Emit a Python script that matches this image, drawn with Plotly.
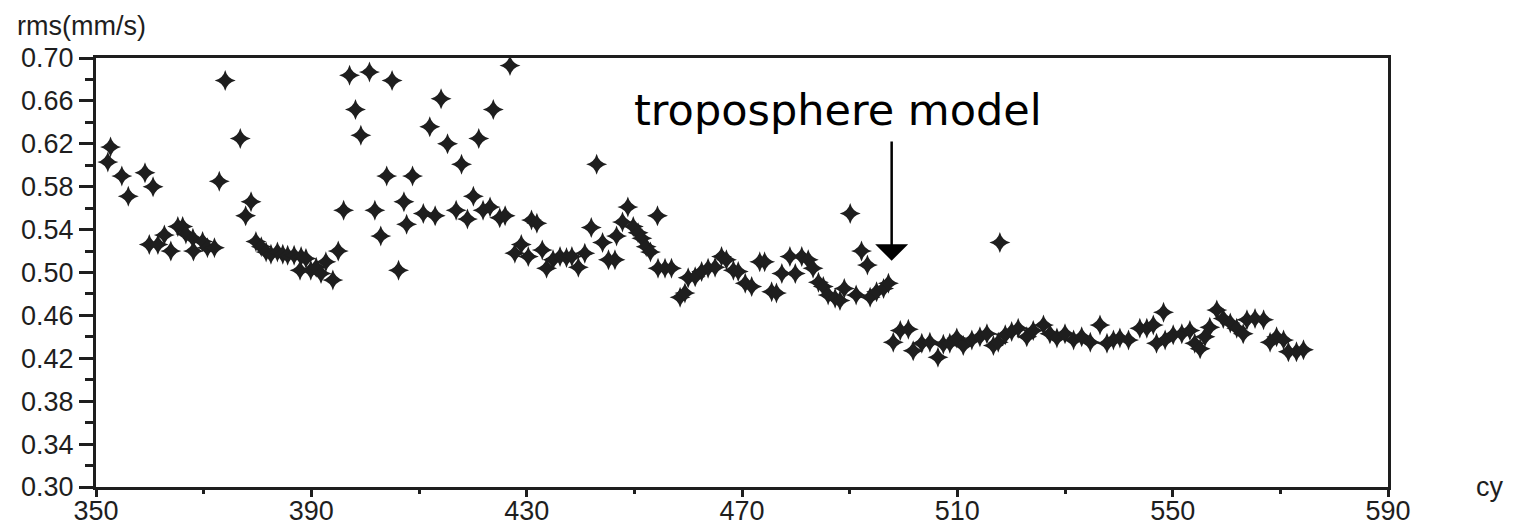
import plotly.graph_objects as go

# cycle numbers (x) and rms values in mm/s (y)
cycle = [
    352.2, 352.7, 354.8, 356.0, 359.1, 360.6, 359.9, 361.5, 362.7, 363.9,
    365.2, 366.1, 366.7, 368.0, 368.1, 369.8, 370.7, 372.0, 372.9, 374.0,
    376.8, 377.8, 378.8,
    379.7, 380.7, 381.6, 382.5, 383.7, 384.7, 385.6, 386.8, 388.1, 389.0,
    387.9, 389.9, 390.9, 391.8, 392.7, 394.0, 395.0,
    396.0, 397.1, 398.2, 399.2, 400.8, 401.8, 402.9, 404.0, 405.0, 406.2,
    407.2, 407.7, 408.8, 410.8, 412.0, 413.0, 414.1, 415.3, 416.9, 417.9,
    419.0, 420.1, 421.1, 421.9, 423.2, 423.8, 425.0, 426.0, 426.9, 427.8,
    429.0, 430.3, 430.9, 431.9, 432.9,
    433.7, 434.9, 436.2, 437.4, 438.4, 439.6, 440.8, 442.0, 443.0, 444.1,
    445.2, 446.4, 446.7, 447.8, 448.8, 449.8, 450.7, 451.4, 452.2, 453.0,
    454.3, 454.4, 455.7, 456.9, 458.5, 459.4, 460.0, 461.3, 462.5, 463.7,
    465.0, 466.2, 467.1, 468.4, 469.3, 470.6, 471.8, 473.3, 474.2, 475.5,
    476.4, 477.4, 478.9, 479.9, 481.1, 482.3, 483.2, 484.2, 485.1, 486.0,
    487.3, 488.2, 489.0, 490.1, 491.2, 492.2, 493.3, 493.8, 495.0, 496.3,
    497.2,
    498.1, 499.4, 500.9, 501.8, 503.4, 504.9, 506.4, 507.4, 508.6, 509.9,
    511.1, 512.7, 514.2, 515.5, 516.7, 517.6, 517.9, 518.9, 520.1, 521.3,
    522.9, 524.1, 526.0, 527.2, 528.5, 530.0, 531.6, 533.1, 534.7, 536.5,
    537.8, 539.0, 540.2, 541.8, 543.9, 545.2, 546.4, 547.0, 548.3, 548.6,
    550.1, 551.7, 553.2, 554.1, 555.1, 556.0, 556.9, 558.2, 559.4, 560.7,
    561.9, 563.1, 563.8, 565.3, 566.9, 568.1, 569.3, 570.6, 571.5, 573.0,
    574.3,
]
rms = [
    0.603, 0.617, 0.590, 0.571, 0.593, 0.580, 0.526, 0.526, 0.535, 0.520,
    0.543, 0.543, 0.536, 0.532, 0.520, 0.529, 0.523, 0.523, 0.585, 0.679,
    0.625, 0.553, 0.566,
    0.529, 0.524, 0.519, 0.517, 0.519, 0.517, 0.516, 0.516, 0.515, 0.513,
    0.502, 0.502, 0.505, 0.499, 0.510, 0.493, 0.520,
    0.558, 0.684, 0.652, 0.628, 0.687, 0.558, 0.534, 0.590, 0.679, 0.502,
    0.566, 0.545, 0.590, 0.555, 0.636, 0.553, 0.662, 0.620, 0.558, 0.601,
    0.550, 0.571, 0.625, 0.558, 0.561, 0.652, 0.551, 0.553, 0.693, 0.518,
    0.526, 0.515, 0.549, 0.546, 0.521,
    0.504, 0.512, 0.515, 0.514, 0.515, 0.505, 0.518, 0.542, 0.601, 0.528,
    0.512, 0.512, 0.534, 0.547, 0.561, 0.543, 0.537, 0.532, 0.524, 0.519,
    0.553, 0.504, 0.504, 0.504, 0.477, 0.481, 0.495, 0.496, 0.501, 0.504,
    0.505, 0.515, 0.512, 0.502, 0.501, 0.490, 0.487, 0.510, 0.510, 0.482,
    0.481, 0.499, 0.515, 0.499, 0.515, 0.512, 0.504, 0.491, 0.487, 0.479,
    0.476, 0.474, 0.485, 0.555, 0.479, 0.520, 0.507, 0.477, 0.482, 0.485,
    0.490,
    0.435, 0.446, 0.447, 0.427, 0.434, 0.435, 0.421, 0.433, 0.434, 0.439,
    0.432, 0.437, 0.440, 0.443, 0.432, 0.435, 0.528, 0.442, 0.445, 0.448,
    0.440, 0.446, 0.451, 0.443, 0.439, 0.443, 0.437, 0.440, 0.435, 0.451,
    0.434, 0.437, 0.439, 0.437, 0.448, 0.448, 0.451, 0.434, 0.463, 0.437,
    0.442, 0.443, 0.446, 0.434, 0.429, 0.440, 0.449, 0.465, 0.457, 0.453,
    0.448, 0.443, 0.456, 0.457, 0.456, 0.435, 0.440, 0.437, 0.426, 0.426,
    0.428,
]

x_ticks = [350, 390, 430, 470, 510, 550, 590]
y_ticks = [0.30, 0.34, 0.38, 0.42, 0.46, 0.50, 0.54, 0.58, 0.62, 0.66, 0.70]

annotation_text = "troposphere model"
arrow_tip = (497.8, 0.511)
arrow_tail = (497.8, 0.6235)
text_pos = (487.8, 0.6515)

ink = "#1e1e1e"
tick_font = dict(family="Liberation Sans, Arial, sans-serif", size=27, color=ink)

fig = go.Figure()
fig.add_trace(go.Scatter(
    x=cycle, y=rms, mode="markers",
    marker=dict(symbol="diamond", size=10, color=ink, line=dict(width=0)),
    hoverinfo="skip", showlegend=False,
))
fig.add_trace(go.Scatter(
    x=cycle, y=rms, mode="markers",
    marker=dict(symbol="star-diamond", size=15, color=ink, line=dict(width=0)),
    hoverinfo="x+y", showlegend=False,
))

fig.update_layout(
    width=1511, height=518,
    margin=dict(l=88, r=131, t=50, b=39, autoexpand=False),
    paper_bgcolor="white", plot_bgcolor="white",
    xaxis=dict(
        range=[350, 590], tickvals=x_ticks, ticktext=[str(v) for v in x_ticks],
        showgrid=False, zeroline=False, automargin=False,
        showline=True, linecolor=ink, linewidth=3, mirror=True,
        ticks="outside", ticklen=7, tickwidth=2.5, tickcolor=ink,
        ticklabelstandoff=-9,
        minor=dict(dtick=20, tick0=350, ticks="outside", ticklen=4, tickwidth=2.5, tickcolor=ink),
        tickfont=tick_font,
    ),
    yaxis=dict(
        range=[0.30, 0.70], tickvals=y_ticks, ticktext=[f"{v:.2f}" for v in y_ticks],
        showgrid=False, zeroline=False, automargin=False,
        showline=True, linecolor=ink, linewidth=3, mirror=True,
        ticks="outside", ticklen=14, tickwidth=2.5, tickcolor=ink,
        minor=dict(dtick=0.02, tick0=0.30, ticks="outside", ticklen=8, tickwidth=2.5, tickcolor=ink),
        tickfont=tick_font,
    ),
    annotations=[
        dict(x=-0.0627, y=1.0746, xref="paper", yref="paper", xanchor="left", yanchor="middle",
             text="rms(mm/s)", showarrow=False, font=tick_font),
        dict(x=1.0789, y=0.0, xref="paper", yref="paper", xanchor="center", yanchor="middle",
             text="cy", showarrow=False, font=tick_font),
        dict(x=text_pos[0], y=text_pos[1], xref="x", yref="y", xanchor="center", yanchor="middle",
             text=annotation_text, showarrow=False,
             font=dict(family="DejaVu Sans, sans-serif", size=43, color="black")),
        dict(x=arrow_tip[0], y=arrow_tip[1], xref="x", yref="y",
             ax=arrow_tail[0], ay=arrow_tail[1], axref="x", ayref="y",
             text="", showarrow=True, arrowhead=1, arrowsize=2.2, arrowwidth=2.5,
             arrowcolor="black"),
    ],
)

fig.write_html("out.html")
